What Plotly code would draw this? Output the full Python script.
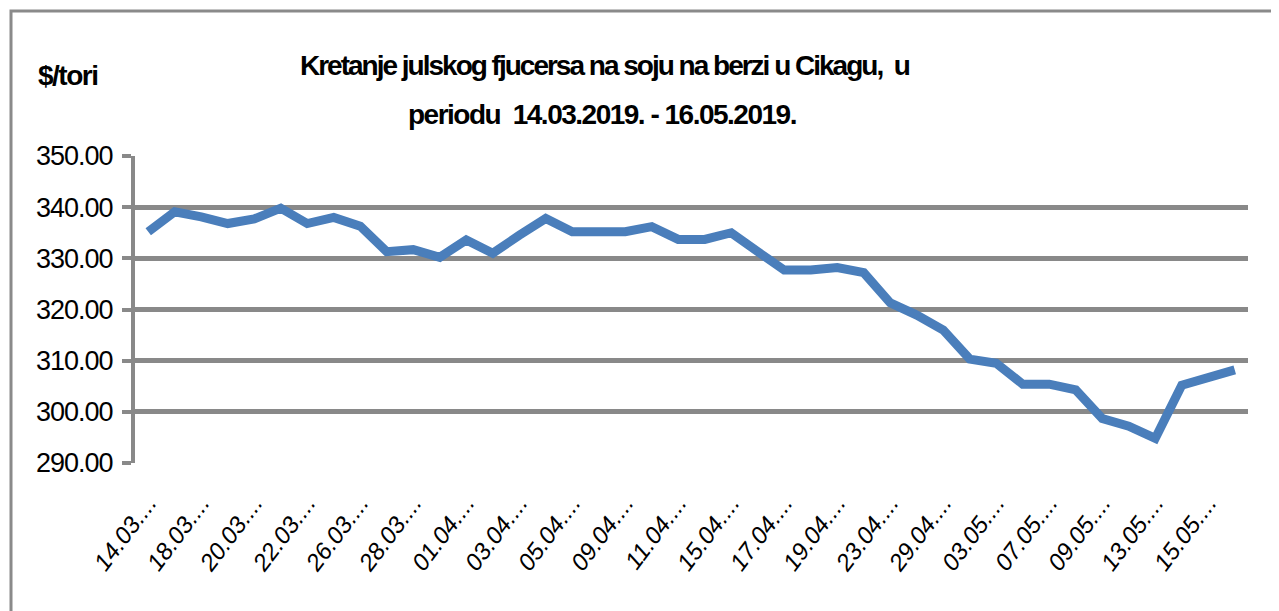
import plotly.graph_objects as go

dates = [
    "14.03.2019.", "15.03.2019.", "18.03.2019.", "19.03.2019.", "20.03.2019.", "21.03.2019.",
    "22.03.2019.", "25.03.2019.", "26.03.2019.", "27.03.2019.", "28.03.2019.", "29.03.2019.",
    "01.04.2019.", "02.04.2019.", "03.04.2019.", "04.04.2019.", "05.04.2019.", "08.04.2019.",
    "09.04.2019.", "10.04.2019.", "11.04.2019.", "12.04.2019.", "15.04.2019.", "16.04.2019.",
    "17.04.2019.", "18.04.2019.", "19.04.2019.", "22.04.2019.", "23.04.2019.", "25.04.2019.",
    "29.04.2019.", "30.04.2019.", "03.05.2019.", "06.05.2019.", "07.05.2019.", "08.05.2019.",
    "09.05.2019.", "10.05.2019.", "13.05.2019.", "14.05.2019.", "15.05.2019.", "16.05.2019.",
]
prices = [
    335.2, 339.1, 338.1, 336.8, 337.7, 339.8, 336.8, 338.0, 336.3, 331.3, 331.7, 330.2,
    333.6, 331.0, 334.5, 337.8, 335.2, 335.2, 335.2, 336.2, 333.7, 333.7, 335.0, 331.3,
    327.7, 327.7, 328.2, 327.2, 321.3, 318.9, 316.0, 310.3, 309.5, 305.4, 305.4, 304.3,
    298.7, 297.2, 294.8, 305.2, 306.9, 308.2,
]
y_ticks = [290, 300, 310, 320, 330, 340, 350]
title_lines = ["Kretanje julskog fjucersa na soju na berzi u Cikagu,  u",
               "periodu  14.03.2019. - 16.05.2019."]
unit_label = "$/tori"

tick_idx = list(range(0, len(dates), 2))
tick_vals = [dates[i] for i in tick_idx]
tick_text = [dates[i][:5] + "...." for i in tick_idx]


def tight(s, ls):
    return f'<span style="letter-spacing:{ls}px">{s}</span>'


FONT = "Liberation Sans, Arial, sans-serif"
GRID = "#898989"

fig = go.Figure()
fig.add_trace(go.Scatter(
    x=dates, y=prices, mode="lines",
    line=dict(color="#4a7ebb", width=9),
    hoverinfo="x+y", showlegend=False,
))

# the page body adds an 8px offset; target plot area in screen px: x 135..1248, y 156..463
OFF = 8
FW, FH = 1279, 611
L = 135 - OFF
T = 156 - OFF
R = FW - (1248 - OFF)
B = FH - (463 - OFF)
W = FW - L - R
H = FH - T - B


def px(x):
    return (x - OFF - L) / W


def py(y):
    return (FH - B - (y - OFF)) / H


fig.update_layout(
    width=FW, height=FH,
    margin=dict(l=L, r=R, t=T, b=B, autoexpand=False),
    paper_bgcolor="white", plot_bgcolor="white",
    xaxis=dict(
        type="category", range=[-0.5, len(dates) - 0.5],
        tickmode="array", tickvals=tick_vals, ticktext=tick_text,
        tickangle=-53,
        tickfont=dict(family="Liberation Sans, sans-serif", size=24, color="black", style="italic"),
        showgrid=False, showline=False, ticks="", zeroline=False,
        ticklabelstandoff=20,
    ),
    yaxis=dict(
        range=[290, 350], tickmode="array", tickvals=y_ticks,
        ticktext=[tight(f"{v:.2f}", -1) for v in y_ticks],
        tickfont=dict(family=FONT, size=27, color="black"),
        showgrid=True, gridcolor=GRID, gridwidth=5,
        showline=True, linecolor=GRID, linewidth=4,
        ticks="outside", ticklen=9, tickwidth=4, tickcolor=GRID,
        zeroline=False, ticklabelstandoff=4,
    ),
    shapes=[dict(
        type="rect", xref="paper", yref="paper",
        x0=px(11), x1=px(1300), y0=py(640), y1=py(11),
        line=dict(color="#8a8a8a", width=3), fillcolor="rgba(0,0,0,0)", layer="below",
    )],
    annotations=[
        dict(text=tight(title_lines[0], -2), xref="paper", yref="paper", x=px(605), y=py(65),
             showarrow=False, xanchor="center", yanchor="middle",
             font=dict(family=FONT, size=28, color="black", weight="bold")),
        dict(text=tight(title_lines[1], -1.5), xref="paper", yref="paper", x=px(602), y=py(115),
             showarrow=False, xanchor="center", yanchor="middle",
             font=dict(family=FONT, size=28, color="black", weight="bold")),
        dict(text=tight(unit_label, -1.5), xref="paper", yref="paper", x=px(67), y=py(75),
             showarrow=False, xanchor="center", yanchor="middle",
             font=dict(family=FONT, size=28, color="black", weight="bold")),
    ],
)

fig.write_html("out.html")
